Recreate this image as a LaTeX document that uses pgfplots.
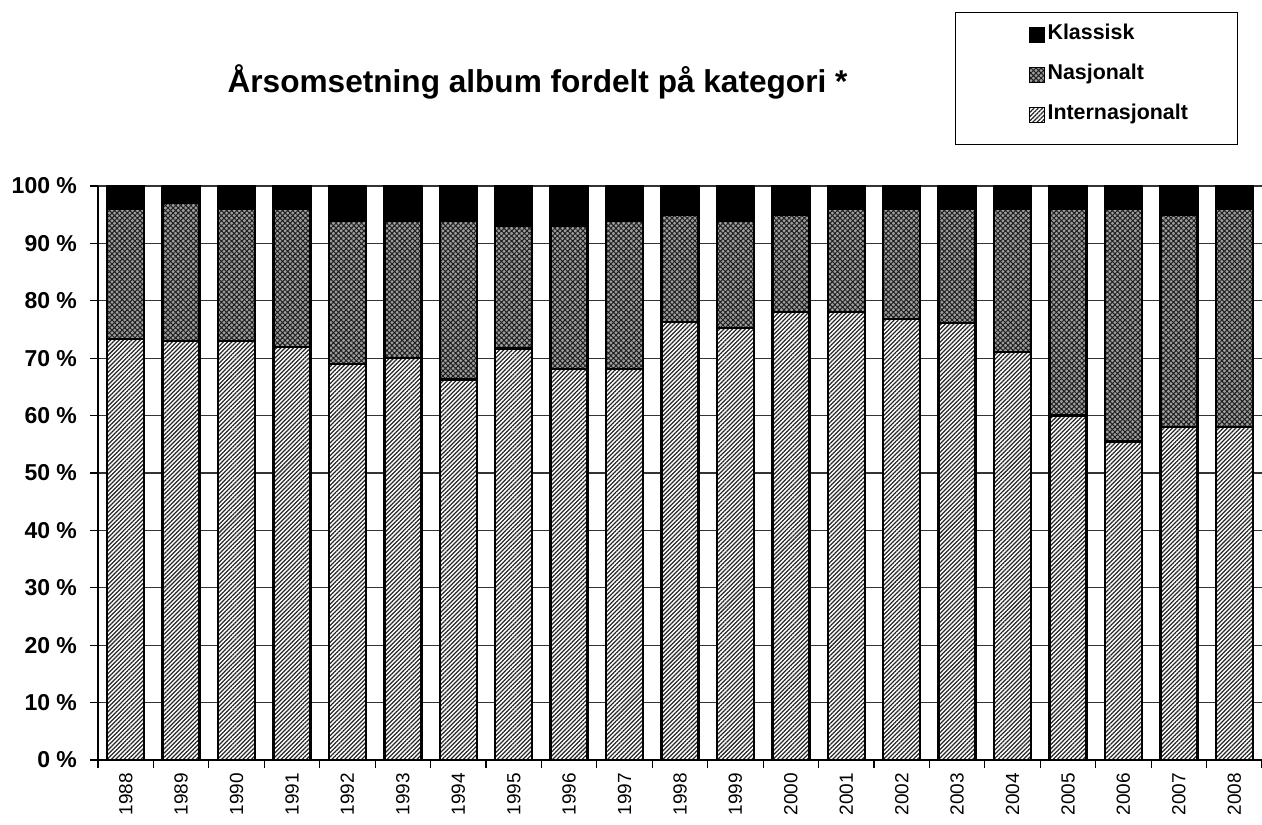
\documentclass[border=0pt]{standalone}
\usepackage{fontspec}
\setmainfont{Liberation Sans}
\usepackage{pgfplots}
\pgfplotsset{compat=1.18}
\usepackage{pgfplotstable}
\usetikzlibrary{patterns.meta}

\pgfplotstableread{
x I N K
0 73.3 22.7 4
1 73.0 24.0 3
2 73.0 23.0 4
3 72.0 24.0 4
4 69.0 25.0 6
5 70.0 24.0 6
6 66.3 27.7 6
7 71.7 21.3 7
8 68.1 24.9 7
9 68.1 25.9 6
10 76.3 18.7 5
11 75.3 18.7 6
12 78.0 17.0 5
13 78.0 18.0 4
14 76.8 19.2 4
15 76.1 19.9 4
16 71.1 24.9 4
17 60.0 36.0 4
18 55.5 40.5 4
19 58.0 37.0 5
20 58.0 38.0 4
}\data

\pgfplotsset{
  mylegend/.style={legend image code/.code={%
    \pgfpathrectangle{\pgfpoint{0pt}{-5.75pt}}{\pgfpoint{44.5pt}{11.5pt}}%
    \pgfusepath{use as bounding box}%
    \draw[##1, line width=0.5pt] (37pt,-1.75pt) rectangle (44.5pt,5.75pt);}},
}
\newcommand{\lent}[1]{\raisebox{2.5pt}[\height][\depth]{\makebox[93.5pt][l]{#1}}}

\begin{document}
\begin{tikzpicture}
\path[use as bounding box] (-49pt,-32pt) rectangle (582pt,380pt);
\begin{axis}[
  at={(0,0)}, anchor=south west,
  scale only axis, width=582pt, height=287pt,
  ybar stacked, bar width=0.667,
  xmin=-0.5, xmax=20.5, ymin=0, ymax=100,
  axis x line*=bottom, axis y line*=left,
  axis line style={line width=1pt, -},
  tick align=outside,
  major tick length=4pt,
  tick style={black, line width=0.6pt},
  xtick={-0.5,0.5,...,20.5},
  xticklabels={1988,1989,1990,1991,1992,1993,1994,1995,1996,1997,1998,1999,2000,2001,2002,2003,2004,2005,2006,2007,2008,{}},
  xticklabel style={xshift=13.86pt, yshift=1pt, rotate=90, anchor=east, font=\fontsize{9.5}{11}\selectfont},
  ytick={0,10,...,100},
  /pgf/number format/assume math mode=true,
  yticklabel={\pgfmathprintnumber{\tick} \%},
  yticklabel style={xshift=-3pt, font=\bfseries\fontsize{11.5}{13}\selectfont},
  ymajorgrids,
  major grid style={black!80, line width=0.6pt},
  title={Årsomsetning album fordelt på kategori *},
  title style={at={(0.3776,1)}, anchor=base, yshift=40.5pt, font=\bfseries\fontsize{15.8}{19}\selectfont},
  legend style={at={(0.7363,1.3031)}, anchor=north west, draw=black, line width=0.5pt,
    inner xsep=0pt, inner ysep=3pt, font=\bfseries\fontsize{10.7}{12}\selectfont,
    nodes={inner xsep=1.5pt, inner ysep=0pt, minimum height=20pt}},
  legend cell align=left,
  reverse legend,
]
\addplot[mylegend, fill=white, draw=black, line width=1.2pt,
  postaction={pattern={Lines[angle=45,distance=1.5pt,line width=0.62pt]}, pattern color=black!85}]
  table[x=x,y=I]{\data};
\addlegendentry{\lent{Internasjonalt}}
\addplot[mylegend, fill=black!38, draw=black, line width=1.2pt,
  postaction={pattern={Hatch[angle=45,distance=1.8pt,line width=0.5pt]}, pattern color=black!88}]
  table[x=x,y=N]{\data};
\addlegendentry{\lent{Nasjonalt}}
\addplot[mylegend, fill=black, draw=black, line width=1.2pt]
  table[x=x,y=K]{\data};
\addlegendentry{\lent{Klassisk}}
\end{axis}
\end{tikzpicture}
\end{document}
